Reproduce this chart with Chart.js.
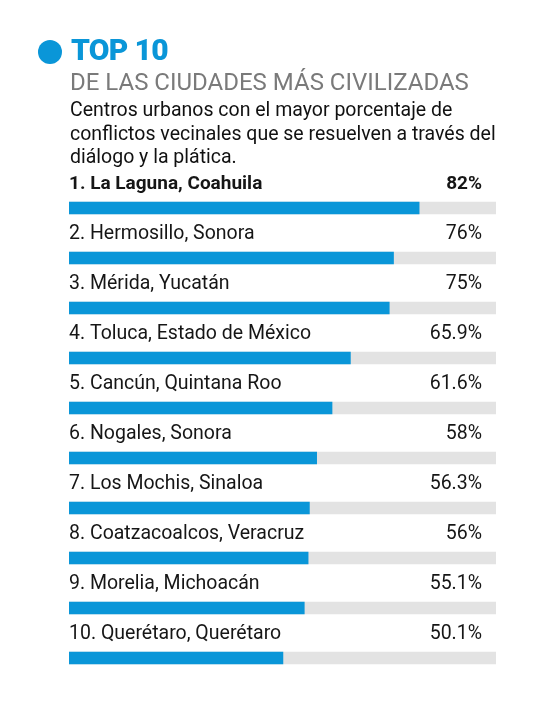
<!DOCTYPE html>
<html>
<head>
<meta charset="utf-8">
<script src="https://cdn.jsdelivr.net/npm/chart.js@4.4.1/dist/chart.umd.min.js"></script>
<style>
  html, body { margin: 0; padding: 0; background: #fff; }
  body { width: 542px; height: 709px; position: relative; overflow: hidden; font-family: Roboto, sans-serif; }
  #chart { position: absolute; left: 0; top: 0; }
  .dot { position: absolute; left: 38px; top: 40px; width: 24px; height: 24px; border-radius: 50%; background: #0a96d8; }
  .top { position: absolute; left: 71px; top: 32px; font-size: 30px; font-weight: 900; color: #0a96d8; letter-spacing: -0.7px; line-height: 36px; }
  .sub { position: absolute; left: 70px; top: 68px; font-size: 24px; color: #7a7a7a; line-height: 28px; white-space: nowrap; }
  .desc { position: absolute; left: 70px; top: 98px; width: 450px; font-size: 19.5px; color: #111; line-height: 23.5px; white-space: nowrap; }
</style>
</head>
<body>
<canvas id="chart" width="542" height="709"></canvas>
<div class="dot"></div>
<div class="top">TOP 10</div>
<div class="sub">DE LAS CIUDADES MÁS CIVILIZADAS</div>
<div class="desc">Centros urbanos con el mayor porcentaje de<br>conflictos vecinales que se resuelven a través del<br>diálogo y la plática.</div>
<script>
const cities = [
  '1. La Laguna, Coahuila',
  '2. Hermosillo, Sonora',
  '3. Mérida, Yucatán',
  '4. Toluca, Estado de México',
  '5. Cancún, Quintana Roo',
  '6. Nogales, Sonora',
  '7. Los Mochis, Sinaloa',
  '8. Coatzacoalcos, Veracruz',
  '9. Morelia, Michoacán',
  '10. Querétaro, Querétaro'
];
const percents = [82, 76, 75, 65.9, 61.6, 58, 56.3, 56, 55.1, 50.1];
const valueLabels = ['82%', '76%', '75%', '65.9%', '61.6%', '58%', '56.3%', '56%', '55.1%', '50.1%'];
const track = [100, 100, 100, 100, 100, 100, 100, 100, 100, 100];

// names above each bar, value on the right
const rowLabels = {
  id: 'rowLabels',
  afterDatasetsDraw(chart) {
    const c = chart.ctx;
    const y = chart.scales.y;
    c.save();
    c.fillStyle = '#161616';
    c.textBaseline = 'alphabetic';
    cities.forEach((name, i) => {
      const py = y.getPixelForValue(i);
      c.font = i === 0 ? 'bold 19px Roboto' : '19.5px Roboto';
      c.textAlign = 'left';
      c.fillText(name, 69, py - 19);
      c.textAlign = 'right';
      c.fillText(valueLabels[i], 482, py - 19);
    });
    c.restore();
  }
};

new Chart(document.getElementById('chart'), {
  type: 'bar',
  data: {
    labels: cities,
    datasets: [
      { data: percents, backgroundColor: '#0a96d8', grouped: false, barThickness: 12, order: 1 },
      { data: track, backgroundColor: '#e3e3e3', grouped: false, barThickness: 12, order: 2 }
    ]
  },
  options: {
    indexAxis: 'y',
    responsive: false,
    animation: false,
    layout: { padding: { top: 183, bottom: 26, left: 69, right: 46 } },
    scales: {
      x: { display: false, min: 0, max: 100 },
      y: { display: false }
    },
    plugins: { legend: { display: false }, tooltip: { enabled: false } }
  },
  plugins: [rowLabels]
});
</script>
</body>
</html>
